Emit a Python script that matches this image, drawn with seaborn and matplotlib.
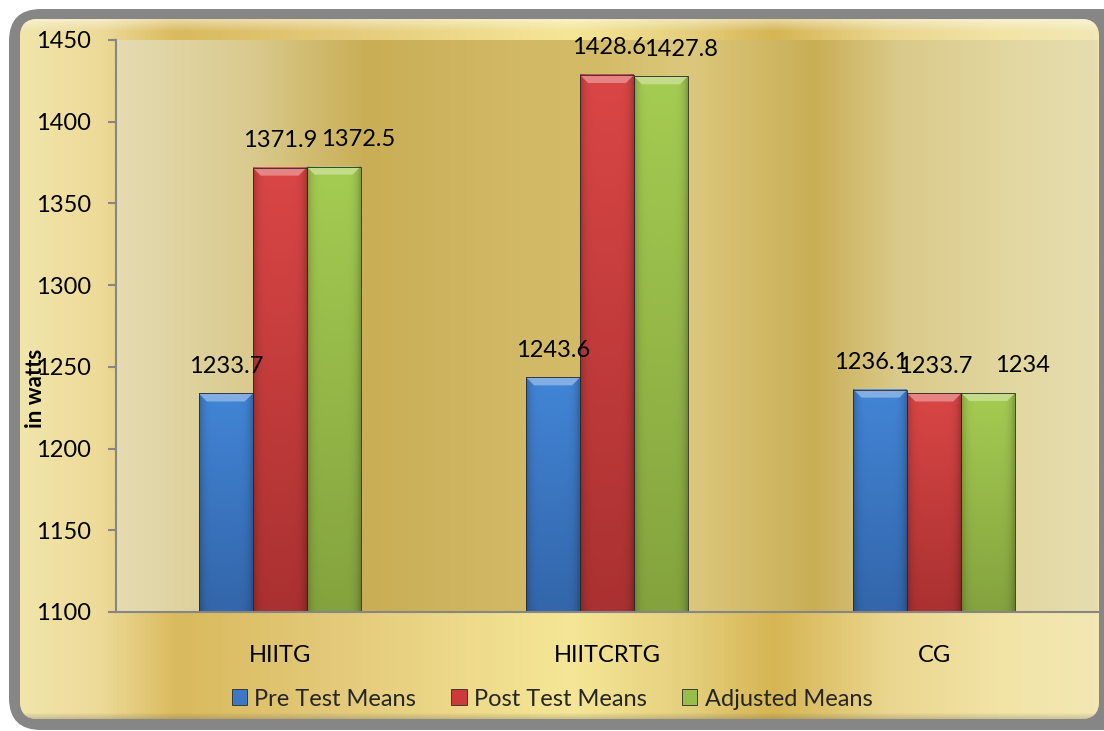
import numpy as np
import pandas as pd
import matplotlib
matplotlib.use("Agg")
import matplotlib.pyplot as plt
import seaborn as sns
from matplotlib.patches import FancyBboxPatch, Polygon, Patch
from matplotlib.colors import to_rgb, LinearSegmentedColormap

# ---------------- data ----------------
categories = ["HIITG", "HIITCRTG", "CG"]
series = ["Pre Test Means", "Post Test Means", "Adjusted Means"]
pre_test = [1233.7, 1243.6, 1236.1]
post_test = [1371.9, 1428.6, 1233.7]
adjusted = [1372.5, 1427.8, 1234.0]
y_ticks = [1100, 1150, 1200, 1250, 1300, 1350, 1400, 1450]
y_label = "in watts"

# ---------------- style ----------------
colors = ["#3C78C6", "#CC3B3B", "#96BE48"]
top_colors = ["#4285D6", "#DA4646", "#A5CC52"]
bot_colors = ["#3366AA", "#AA3131", "#84A33E"]
label_nudge_px = [[0, 0, -9], [1, 2, 1], [25, 20, 34]]
FS = 17

W, H = 1104, 731
sns.set_theme(style="white")
plt.rcParams["font.family"] = ["Lato", "DejaVu Sans"]

df = pd.DataFrame({
    "group": categories * 3,
    "series": [series[0]] * 3 + [series[1]] * 3 + [series[2]] * 3,
    "value": pre_test + post_test + adjusted,
})

fig = plt.figure(figsize=(W / 100, H / 100), dpi=100)

# ---------- background frame ----------
bg = fig.add_axes([0, 0, 1, 1], zorder=-10)
bg.set_xlim(0, W)
bg.set_ylim(H, 0)
bg.axis("off")

outer = FancyBboxPatch((9, 9), W - 9 + 30, H - 9 - 1,
                       boxstyle="round,pad=0,rounding_size=32",
                       fc="#868686", ec="none")
bg.add_patch(outer)

gx0, gx1, gy0, gy1 = 20, 1099, 19, 719
gold = FancyBboxPatch((gx0, gy0), gx1 - gx0, gy1 - gy0,
                      boxstyle="round,pad=0,rounding_size=18",
                      fc="#EAD68F", ec="none")
bg.add_patch(gold)


def grad_cmap(stops, x0, x1):
    return LinearSegmentedColormap.from_list(
        "g", [((p - x0) / (x1 - x0), c) for p, c in stops])


outer_stops = [(20, "#F1E5AA"), (100, "#EDDA98"), (175, "#D9BA5D"),
               (330, "#E3C979"), (570, "#F5E797"), (690, "#E5CF7D"),
               (775, "#D6B553"), (890, "#EAD68F"), (1000, "#F2E4A5"),
               (1099, "#F3E8B4")]
cm = grad_cmap(outer_stops, gx0, gx1)
grad = np.linspace(0, 1, 800)[None, :]
im = bg.imshow(cm(grad), extent=(gx0, gx1, gy1, gy0), aspect="auto",
               origin="upper", zorder=1)
im.set_clip_path(gold)

# vertical shading: highlight on top, shadow at bottom
nrows = gy1 - gy0
shade = np.zeros((nrows, 1, 4))
rows = np.arange(nrows)
top_a = np.clip(1 - rows / 12.0, 0, 1) * 0.45
bot_a = np.clip(1 - (nrows - 1 - rows) / 6.0, 0, 1) * 0.25
shade[:, 0, :3] = np.where(top_a[:, None] > 0, 1.0, 0.35)
shade[:, 0, 3] = np.maximum(top_a, bot_a)
im2 = bg.imshow(shade, extent=(gx0, gx1, gy1, gy0), aspect="auto",
                origin="upper", zorder=2)
im2.set_clip_path(gold)
bg.set_xlim(0, W)
bg.set_ylim(H, 0)

# ---------- main axes ----------
ax_left, ax_right, ax_top, ax_bot = 116, 1098, 40, 612
ax = fig.add_axes([ax_left / W, 1 - ax_bot / H,
                   (ax_right - ax_left) / W, (ax_bot - ax_top) / H])
ax.patch.set_alpha(0)

plot_stops = [(116, "#E4DBB1"), (250, "#DACA8E"), (365, "#C9AE55"),
              (520, "#D2B966"), (600, "#D3BB68"), (690, "#DCC87D"),
              (815, "#C9AE55"), (900, "#DACA8A"), (1019, "#E3D8A2"),
              (1098, "#E6DDAF")]
pcm = grad_cmap(plot_stops, ax_left, ax_right)
ax.imshow(pcm(grad), extent=(0, 1, 0, 1), transform=ax.transAxes,
          aspect="auto", zorder=0)

sns.barplot(data=df, x="group", y="value", hue="series",
            order=categories, hue_order=series, palette=colors,
            width=0.494, saturation=1, ax=ax, legend=False,
            edgecolor="#2a2a2a", linewidth=0.6)

ax.set_ylim(1100, 1450)
ax.set_xlim(-0.5, 2.5)
ax.set_yticks(y_ticks)
ax.set_xlabel("")
ax.set_ylabel("")

ymin = 1100
px_y = (1450 - 1100) / (ax_bot - ax_top)
px_x = 3.0 / (ax_right - ax_left)

for si, cont in enumerate(ax.containers):
    ct, cb = np.array(to_rgb(top_colors[si])), np.array(to_rgb(bot_colors[si]))
    for bar in cont.patches:
        x0 = bar.get_x()
        w = bar.get_width()
        top = bar.get_height() + bar.get_y()
        n = 120
        v = np.linspace(0, 1, n)[:, None, None]  # 0 top -> 1 bottom
        u = np.linspace(0, 1, 40)[None, :, None]
        base = ct * (1 - v) + cb * v
        edge = 1 - 0.22 * np.clip(np.abs(u - 0.5) * 2, 0, 1) ** 6
        img = np.clip(base * edge, 0, 1)
        ax.imshow(img, extent=(x0, x0 + w, ymin, top), aspect="auto",
                  origin="upper", zorder=2.2, interpolation="bilinear")
        bar.set_facecolor("none")
        bar.set_zorder(2.6)
        # top bevel
        dy = 8 * px_y
        dx = 8 * px_x
        light = ct * 0.6 + 0.4
        ax.add_patch(Polygon([(x0, top), (x0 + w, top),
                              (x0 + w - dx, top - dy), (x0 + dx, top - dy)],
                             closed=True, fc=light, ec="none", alpha=0.85,
                             zorder=2.4))
    labels = ax.bar_label(cont, fmt="%g", padding=12, fontsize=FS,
                          color="black", zorder=5)
    for li, t in enumerate(labels):
        t.xyann = (label_nudge_px[si][li] * 0.72, 12)

ax.set_xlim(-0.5, 2.5)
ax.set_ylim(1100, 1450)

for s in ["top", "right"]:
    ax.spines[s].set_visible(False)
for s in ["left", "bottom"]:
    ax.spines[s].set_visible(True)
    ax.spines[s].set_color("#868686")
    ax.spines[s].set_linewidth(1.5)
    ax.spines[s].set_zorder(4)

ax.tick_params(axis="y", left=True, length=6, width=1.5, color="#868686",
               pad=12, labelsize=FS, direction="out", labelcolor="black")
ax.tick_params(axis="x", bottom=False, length=0, pad=24, labelsize=FS,
               labelcolor="black")
ax.grid(False)

fig.text(36 / W, 1 - 388 / H, y_label, rotation=90, fontweight="bold",
         fontsize=16, ha="center", va="center", color="black")

handles = [Patch(facecolor=c, edgecolor="#2a2a2a", linewidth=0.6)
           for c in colors]
fig.legend(handles, series, loc="center", bbox_to_anchor=(0.5, 1 - 699 / H),
           ncol=3, frameon=False, fontsize=FS, handlelength=0.65,
           handleheight=0.65, handletextpad=0.3, columnspacing=1.5)

fig.savefig("out.png", dpi=100)
